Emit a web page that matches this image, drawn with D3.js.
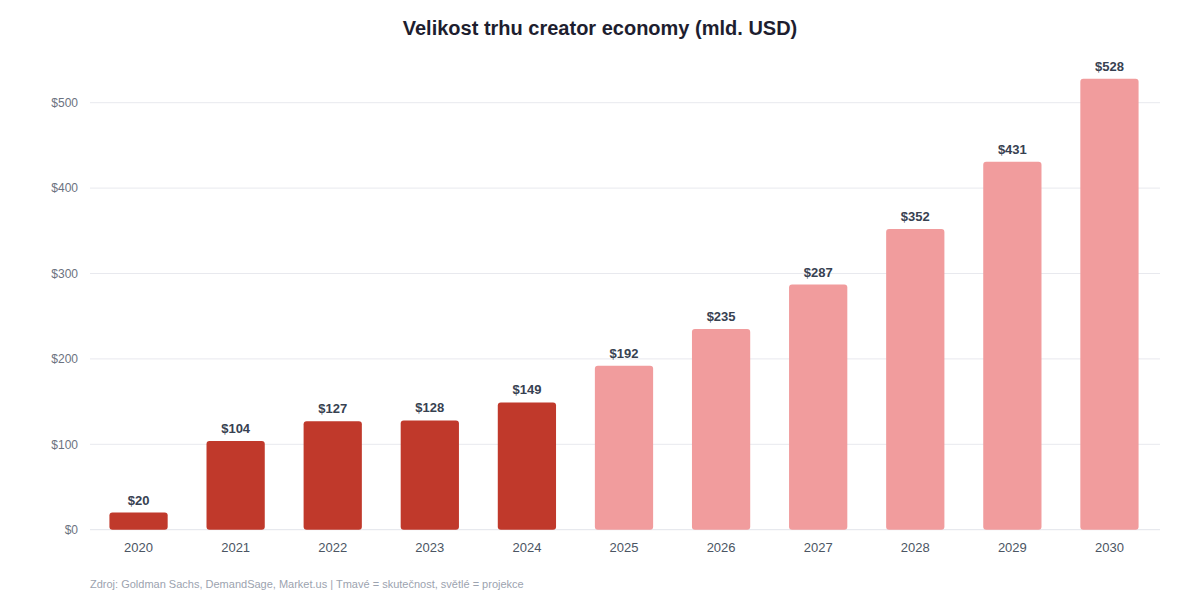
<!DOCTYPE html>
<html><head><meta charset="utf-8">
<script src="https://cdn.jsdelivr.net/npm/d3@7/dist/d3.min.js"></script>
<style>
body{margin:0;background:#fff;font-family:"Liberation Sans",Arial,Helvetica,sans-serif;}
</style></head>
<body><svg id="c" width="1200" height="600"></svg>
<script>
const years = ["2020","2021","2022","2023","2024","2025","2026","2027","2028","2029","2030"];
const values = [20,104,127,128,149,192,235,287,352,431,528];
const actual = [true,true,true,true,true,false,false,false,false,false,false];
const yTicks = [0,100,200,300,400,500];

const svg = d3.select("#c");
const left = 90, right = 1160, y0 = 529.7, y500 = 102.7;
const x = d3.scaleBand().domain(years).range([90,1158]).paddingInner(0.4).paddingOuter(0.2);
const y = d3.scaleLinear().domain([0,500]).range([y0,y500]);

svg.append("text").attr("x",600).attr("y",35).attr("text-anchor","middle")
  .attr("font-size",20).attr("font-weight","bold").attr("fill","#1e1e2f")
  .text("Velikost trhu creator economy (mld. USD)");

const g = svg.append("g");
g.selectAll("line.grid").data(yTicks).join("line").attr("class","grid")
  .attr("x1",left).attr("x2",right).attr("y1",d=>y(d)).attr("y2",d=>y(d))
  .attr("stroke",d=>d===0?"#e2e4ea":"#e8e9ee").attr("stroke-width",1);
g.selectAll("text.yt").data(yTicks).join("text").attr("class","yt")
  .attr("x",78).attr("y",d=>y(d)).attr("dy","0.35em").attr("text-anchor","end")
  .attr("font-size",12).attr("fill","#6b7280").text(d=>"$"+d);

g.selectAll("rect.bar").data(values).join("rect").attr("class","bar")
  .attr("x",(d,i)=>x(years[i])).attr("width",x.bandwidth())
  .attr("y",d=>y(d)).attr("height",d=>y0-y(d)).attr("rx",3).attr("ry",3)
  .attr("fill",(d,i)=>actual[i]?"#c0392b":"#f19c9d");

g.selectAll("text.val").data(values).join("text").attr("class","val")
  .attr("x",(d,i)=>x(years[i])+x.bandwidth()/2).attr("y",d=>y(d)-8)
  .attr("text-anchor","middle").attr("font-size",13).attr("font-weight","bold")
  .attr("fill","#374151").text(d=>"$"+d);

g.selectAll("text.xt").data(years).join("text").attr("class","xt")
  .attr("x",d=>x(d)+x.bandwidth()/2).attr("y",552)
  .attr("text-anchor","middle").attr("font-size",13).attr("fill","#4b5563").text(d=>d);

svg.append("text").attr("x",90).attr("y",588).attr("font-size",11).attr("fill","#9ca3af")
  .text("Zdroj: Goldman Sachs, DemandSage, Market.us | Tmavé = skutečnost, světlé = projekce");
</script></body></html>
